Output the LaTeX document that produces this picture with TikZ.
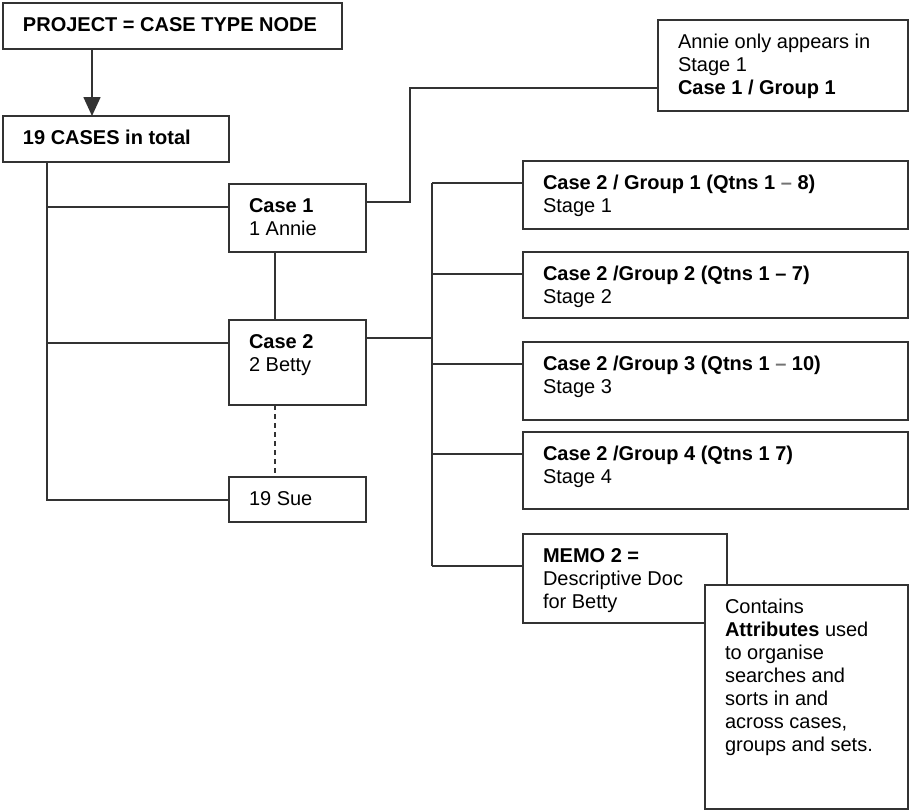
\documentclass[tikz,border=0pt]{standalone}
\usepackage{fontspec}
\setmainfont{Liberation Sans}
\usetikzlibrary{arrows.meta}

% Box content: fixed-size top-aligned paragraph, first baseline 28pt below the top edge
\newcommand{\boxcontent}[3]{%
  \begin{minipage}[t][#2][t]{#1}%
    \fontsize{20}{23}\selectfont\raggedright
    \vspace*{12.4pt}\strut #3%
  \end{minipage}}

\tikzset{
  cbox/.style={draw=black!80, line width=1.7pt, fill=white, anchor=north west,
               inner xsep=20pt, inner ysep=0pt, outer sep=0pt},
  link/.style={draw=black!80, line width=1.7pt},
  dashlink/.style={link, dash pattern=on 5pt off 4pt},
  arrowlink/.style={link, -{Triangle[width=17pt,length=19pt]}},
}

\begin{document}
\begin{tikzpicture}[x=1pt, y=-1pt]
  \useasboundingbox (0,0) rectangle (911,811);

  % left hierarchy
  \node[cbox] (proj)  at (3,3)     {\boxcontent{299pt}{46pt}{\textbf{PROJECT = CASE TYPE NODE}}};
  \node[cbox] (cases) at (3,116)   {\boxcontent{186pt}{46pt}{\textbf{19 CASES in total}}};
  \node[cbox] (c1)    at (229,184) {\boxcontent{97pt}{68pt}{\textbf{Case 1}\\1 Annie}};
  \node[cbox] (c2)    at (229,320) {\boxcontent{97pt}{85pt}{\textbf{Case 2}\\2 Betty}};
  \node[cbox] (sue)   at (229,477) {\boxcontent{97pt}{45pt}{19 Sue}};

  % note on Annie
  \node[cbox] (annie) at (658,20)  {\boxcontent{210pt}{91pt}{Annie only appears in\\Stage 1\\\textbf{Case 1 / Group 1}}};

  % groups of case 2
  \node[cbox] (g1) at (523,161) {\boxcontent{345pt}{68pt}{\textbf{Case 2 / Group 1 (Qtns 1 {\color{black!55}--} 8)}\\Stage 1}};
  \node[cbox] (g2) at (523,252) {\boxcontent{345pt}{66pt}{\textbf{Case 2 /Group 2 (Qtns 1 -- 7)}\\Stage 2}};
  \node[cbox] (g3) at (523,342) {\boxcontent{345pt}{78pt}{\textbf{Case 2 /Group 3 (Qtns 1 {\color{black!55}--} 10)}\\Stage 3}};
  \node[cbox] (g4) at (523,432) {\boxcontent{345pt}{77pt}{\textbf{Case 2 /Group 4 (Qtns 1 7)}\\Stage 4}};
  \node[cbox] (memo) at (523,534) {\boxcontent{164pt}{89pt}{\textbf{MEMO 2 =}\\Descriptive Doc\\for Betty}};

  % attributes note, drawn after the memo so it sits in front
  \node[cbox] (attr) at (705,585) {\boxcontent{163pt}{224pt}{Contains\\\textbf{Attributes} used\\to organise\\searches and\\sorts in and\\across cases,\\groups and sets.}};

  % arrow from project to cases
  \coordinate (ax) at (92,0);
  \draw[arrowlink] (proj.south -| ax) -- (cases.north -| ax);

  % trunk from cases to each case
  \coordinate (tx) at (47,0);
  \draw[link] (cases.south -| tx) -- (tx |- 0,500) -- (sue.west |- 0,500);
  \draw[link] (tx |- 0,207) -- (c1.west |- 0,207);
  \draw[link] (tx |- 0,343) -- (c2.west |- 0,343);

  % vertical links between cases
  \coordinate (vx) at (275,0);
  \draw[link] (c1.south -| vx) -- (c2.north -| vx);
  \draw[dashlink] (c2.south -| vx) -- (sue.north -| vx);

  % case 1 to its note
  \draw[link] (c1.east |- 0,202) -- (410,202) -- (410,88) -- (annie.west |- 0,88);

  % case 2 to its groups and memo
  \coordinate (bx) at (432,0);
  \draw[link] (c2.east |- 0,338) -- (bx |- 0,338);
  \draw[link] (bx |- 0,183) -- (bx |- 0,566);
  \draw[link] (bx |- 0,183) -- (g1.west |- 0,183);
  \draw[link] (bx |- 0,274) -- (g2.west |- 0,274);
  \draw[link] (bx |- 0,364) -- (g3.west |- 0,364);
  \draw[link] (bx |- 0,454) -- (g4.west |- 0,454);
  \draw[link] (bx |- 0,566) -- (memo.west |- 0,566);
\end{tikzpicture}
\end{document}
